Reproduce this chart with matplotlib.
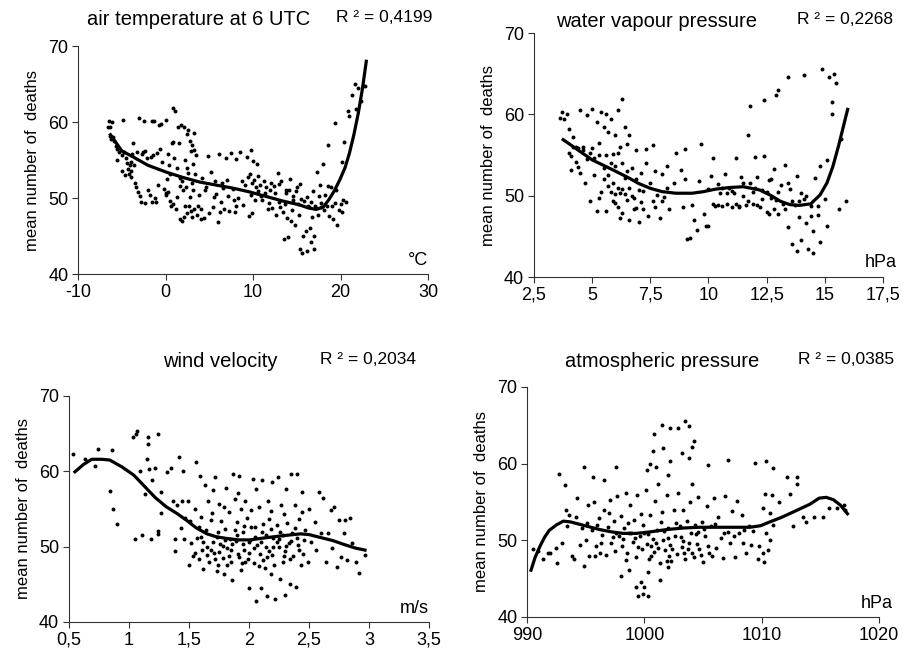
import matplotlib
matplotlib.use("Agg")
import matplotlib.pyplot as plt

plt.rcParams["font.family"] = ["Liberation Sans", "DejaVu Sans"]

# ── data ────────────────────────────────────────────────────────────

temp_pts = [
    (-6.6, 59.3), (-6.5, 60.1), (-6.4, 59.4), (-6.3, 58.1), (-6.2, 57.8), (-6.1, 60.0), (-6.0, 58.0),
    (-5.9, 57.5), (-5.7, 56.9), (-5.5, 56.4), (-5.3, 56.0), (-5.0, 55.6), (-4.9, 60.3), (-4.7, 56.0),
    (-4.5, 55.2), (-4.4, 54.6), (-4.3, 53.8), (-4.2, 53.2), (-4.1, 54.4), (-4.0, 53.5), (-3.9, 52.8),
    (-3.8, 55.8), (-3.7, 57.2), (-3.5, 52.0), (-3.4, 51.4), (-3.3, 56.1), (-3.2, 50.8), (-3.0, 60.5),
    (-2.9, 50.3), (-2.8, 49.5), (-2.7, 55.8), (-2.5, 60.1), (-2.4, 49.4), (-2.3, 56.2), (-2.1, 55.3),
    (-2.0, 51.0), (-1.8, 50.4), (-1.6, 60.1), (-1.5, 49.5), (-1.4, 55.6), (-1.3, 60.1), (-1.2, 50.0),
    (-1.0, 55.9), (-0.8, 59.6), (-0.6, 56.5), (-0.5, 59.7), (-0.4, 54.8), (-0.2, 51.2), (0.0, 60.3),
    (0.0, 50.6), (0.1, 50.4), (0.2, 52.5), (0.3, 50.8), (0.4, 54.3), (0.5, 53.2), (0.6, 49.0),
    (0.7, 57.3), (0.8, 61.9), (0.9, 49.2), (1.0, 55.3), (1.1, 61.4), (1.2, 48.5), (1.3, 53.9),
    (1.4, 59.4), (1.5, 57.3), (1.6, 47.3), (1.7, 52.6), (1.8, 59.6), (1.9, 47.0), (2.0, 51.0),
    (2.1, 59.3), (2.2, 55.0), (2.3, 51.5), (2.4, 48.0), (2.5, 58.4), (2.6, 53.3), (2.7, 49.0),
    (2.8, 57.5), (2.9, 56.2), (3.0, 47.5), (3.0, 52.0), (3.1, 54.5), (3.2, 58.5), (3.3, 48.5),
    (3.4, 53.2), (3.6, 47.8), (3.8, 50.4), (4.0, 48.5), (4.2, 52.6), (4.4, 47.4), (4.6, 51.5),
    (4.8, 55.5), (5.0, 48.0), (5.2, 53.4), (5.4, 48.8), (5.6, 52.3), (5.8, 50.5), (6.0, 46.8),
    (6.1, 55.8), (6.3, 49.5), (6.5, 52.0), (6.7, 48.6), (6.9, 55.3), (7.1, 50.3), (7.3, 48.3),
    (7.5, 55.9), (7.7, 51.2), (7.9, 48.2), (8.1, 55.1), (8.3, 50.0), (8.5, 56.1), (8.7, 52.3),
    (8.9, 49.1), (9.1, 51.7), (9.3, 55.4), (9.5, 47.7), (9.6, 53.1), (9.7, 56.3), (9.8, 50.4),
    (10.0, 54.9), (10.1, 52.4), (10.2, 49.8), (10.4, 54.5), (10.6, 50.9), (10.8, 51.7), (11.0, 49.8),
    (11.3, 50.6), (11.5, 51.5), (11.8, 49.3), (12.0, 52.0), (12.2, 48.7), (12.4, 51.6), (12.6, 47.8),
    (12.8, 53.3), (13.0, 49.5), (13.2, 52.2), (13.4, 48.2), (13.5, 44.6), (13.7, 51.0), (13.9, 47.4),
    (14.0, 44.9), (14.2, 52.5), (14.4, 48.4), (14.6, 50.3), (14.8, 46.4), (15.0, 51.4), (15.2, 47.8),
    (15.4, 43.3), (15.6, 42.8), (15.7, 45.0), (15.8, 49.6), (16.0, 45.7), (16.2, 43.0), (16.4, 48.8),
    (16.5, 46.1), (16.6, 44.2), (16.8, 50.9), (16.9, 43.3), (17.0, 45.0), (17.1, 49.0), (17.3, 53.4),
    (17.4, 47.8), (17.6, 51.7), (17.8, 48.8), (18.0, 54.5), (18.2, 50.4), (18.4, 49.0), (18.6, 57.0),
    (18.7, 47.6), (18.9, 51.5), (19.1, 47.2), (19.3, 49.3), (19.4, 59.9), (19.5, 51.0), (19.6, 46.4),
    (19.8, 48.4), (20.0, 49.2), (20.1, 54.7), (20.2, 48.1), (20.4, 57.4), (20.6, 49.5), (20.8, 61.5),
    (21.0, 60.8), (21.3, 63.6), (21.6, 65.0), (21.8, 61.7), (22.0, 64.5), (22.3, 62.8), (22.5, 64.7),
    (22.8, 64.7),
    (11.2, 52.3), (12.9, 51.9), (13.6, 49.2), (14.5, 49.8), (15.5, 49.9), (16.3, 48.9), (17.2, 48.7),
    (17.8, 49.4), (10.5, 52.9), (9.9, 52.0), (3.5, 55.6), (2.8, 50.2), (1.9, 52.2), (-5.5, 55.0),
    (-4.6, 53.0), (-4.0, 54.8), (-0.9, 51.7), (0.5, 49.6), (2.2, 48.9), (3.0, 57.0), (4.5, 51.0),
    (6.6, 51.3), (7.8, 49.8), (11.7, 48.5), (14.1, 51.1), (15.1, 49.2),
    (2.6, 59.0), (2.9, 48.3), (3.1, 51.0), (2.4, 53.9), (1.6, 51.6), (2.1, 47.5), (3.3, 56.3),
    (1.3, 50.2), (0.9, 57.4), (3.7, 49.0), (4.1, 47.2), (5.5, 50.1), (9.4, 52.8), (9.9, 48.0),
    (10.3, 51.4), (10.9, 50.3), (12.5, 50.6), (13.1, 48.8), (13.8, 50.6), (14.3, 47.0), (15.3, 51.9),
    (16.1, 50.2), (16.7, 47.5), (17.5, 50.3), (18.1, 48.4), (18.5, 51.6), (19.0, 48.9), (20.3, 49.7),
    (-3.6, 54.4), (-2.6, 56.0), (-1.7, 55.4), (-5.0, 53.6), (-1.1, 49.5), (0.3, 55.8), (6.2, 48.2),
    (7.0, 52.4), (8.0, 48.9), (11.9, 51.0), (14.9, 50.9), (16.6, 49.5),
]
temp_trend = [
    (-6.4, 58.5), (-5.0, 56.2), (-3.7, 55.4), (-2.0, 54.3), (0.1, 53.4), (2.0, 52.7), (3.9, 52.1),
    (5.8, 51.7), (7.7, 51.3), (9.6, 50.8), (11.5, 50.2), (13.4, 49.6), (15.3, 49.1), (16.3, 48.7),
    (17.2, 48.5), (18.0, 48.8), (18.6, 49.7), (19.3, 51.0), (19.9, 52.4), (20.5, 54.0), (21.0, 55.9),
    (21.5, 58.3), (22.0, 61.1), (22.5, 64.5), (22.95, 68.2),
]

vap_pts = [
    (3.6, 59.5), (3.7, 60.3), (3.8, 59.4), (3.9, 60.0), (4.0, 58.2), (4.0, 55.3), (4.1, 54.9),
    (4.1, 53.2), (4.2, 56.0), (4.2, 57.2), (4.3, 54.2), (4.4, 53.5), (4.5, 60.5), (4.5, 52.8),
    (4.6, 55.6), (4.7, 51.6), (4.8, 59.9), (4.8, 54.5), (4.9, 49.4), (5.0, 55.8), (5.0, 60.7),
    (5.1, 52.6), (5.2, 59.0), (5.2, 48.1), (5.3, 55.0), (5.3, 56.5), (5.4, 60.3), (5.4, 50.4),
    (5.5, 58.4), (5.5, 53.4), (5.6, 48.1), (5.6, 60.0), (5.7, 52.6), (5.7, 57.8), (5.8, 50.5),
    (5.8, 59.4), (5.9, 55.1), (5.9, 49.3), (6.0, 53.7), (6.0, 57.5), (6.1, 51.0), (6.1, 48.6),
    (6.1, 60.5), (6.2, 56.0), (6.2, 50.3), (6.3, 61.9), (6.3, 54.0), (6.3, 47.9), (6.4, 58.5),
    (6.4, 52.2), (6.5, 49.5), (6.5, 56.3), (6.6, 51.0), (6.6, 57.4), (6.6, 47.0), (6.7, 53.4),
    (6.8, 48.4), (6.9, 52.0), (6.9, 55.6), (7.0, 46.8), (7.0, 50.7), (7.1, 52.8), (7.2, 48.3),
    (7.3, 55.7), (7.3, 54.0), (7.4, 47.5), (7.5, 51.5), (7.6, 56.2), (7.6, 49.4), (7.7, 53.0),
    (7.8, 50.1), (7.9, 47.2), (8.0, 52.7), (8.0, 49.3), (8.2, 53.7), (8.3, 48.4), (8.5, 51.5),
    (8.6, 55.3), (8.8, 53.2), (8.9, 48.6), (9.0, 55.7), (9.0, 52.0), (9.1, 44.7), (9.2, 44.8),
    (9.3, 48.8), (9.4, 47.0), (9.5, 45.8), (9.6, 51.8), (9.7, 56.3), (9.8, 47.7), (9.9, 46.3),
    (10.0, 46.3), (10.1, 52.4), (10.2, 54.6), (10.3, 48.7), (10.4, 51.4), (10.5, 50.3), (10.6, 48.7),
    (10.7, 52.7), (10.8, 49.0), (10.9, 51.0), (11.0, 48.6), (11.1, 50.3), (11.2, 54.6), (11.3, 48.7),
    (11.4, 52.3), (11.5, 49.9), (11.6, 48.9), (11.7, 57.4), (11.8, 51.6), (11.8, 61.0), (11.9, 49.0),
    (12.0, 54.8), (12.1, 52.3), (12.2, 48.6), (12.3, 50.7), (12.4, 61.8), (12.4, 54.9), (12.5, 48.0),
    (12.6, 51.9), (12.7, 49.7), (12.8, 53.3), (12.9, 62.4), (13.0, 63.0), (13.0, 47.8), (13.1, 51.3),
    (13.2, 49.0), (13.3, 53.8), (13.4, 64.6), (13.4, 46.2), (13.5, 50.8), (13.6, 44.0), (13.7, 48.9),
    (13.8, 52.4), (13.8, 43.2), (13.9, 47.4), (14.0, 44.5), (14.1, 64.8), (14.1, 49.6), (14.2, 46.7),
    (14.3, 43.4), (14.4, 48.7), (14.5, 42.9), (14.5, 45.6), (14.6, 52.2), (14.7, 47.6), (14.8, 44.3),
    (14.8, 53.6), (14.9, 65.6), (15.0, 49.6), (15.1, 46.3), (15.1, 54.4), (15.2, 64.6), (15.3, 61.5),
    (15.3, 60.1), (15.4, 65.0), (15.5, 63.8), (15.6, 48.4), (15.7, 57.0), (15.9, 49.3),
    (11.0, 50.6), (11.5, 51.5), (12.0, 51.0), (12.3, 49.6), (12.8, 48.4), (13.0, 50.4), (13.6, 49.4),
    (10.6, 50.9), (10.2, 49.0), (8.2, 50.9), (7.2, 50.6), (6.8, 49.7), (5.9, 51.5), (6.4, 50.2),
    (5.1, 54.6), (4.6, 56.0), (4.3, 56.0), (5.6, 55.0), (6.0, 50.2), (6.2, 47.2), (14.2, 50.0),
    (14.7, 48.7), (12.6, 47.7), (11.3, 48.6),
    (5.7, 51.2), (5.8, 54.0), (6.0, 49.1), (6.1, 55.3), (6.3, 50.8), (6.5, 53.0), (6.7, 50.0),
    (5.5, 52.0), (5.3, 49.7), (4.9, 55.2), (4.4, 55.8), (6.9, 48.5), (7.1, 49.2), (7.7, 48.6),
    (8.1, 49.8), (10.4, 48.9), (10.8, 50.3), (11.2, 49.0), (11.7, 49.3), (12.1, 48.8), (12.5, 50.4),
    (12.9, 49.5), (13.3, 48.3), (13.9, 49.3), (14.4, 47.5), (10.0, 50.8), (11.9, 50.4), (12.7, 52.0),
    (13.4, 51.6), (14.0, 50.3),
]
vap_trend = [
    (3.7, 57.0), (4.4, 55.6), (5.0, 54.4), (5.8, 53.3), (6.5, 52.3), (7.0, 51.5), (7.5, 50.9),
    (8.0, 50.5), (8.6, 50.3), (9.3, 50.3), (9.8, 50.5), (10.3, 50.8), (10.9, 51.0), (11.5, 51.1),
    (12.2, 50.7), (12.7, 50.0), (13.1, 49.3), (13.5, 48.9), (13.9, 48.8), (14.4, 49.0), (14.8, 50.1),
    (15.1, 51.6), (15.35, 53.6), (15.6, 56.2), (15.8, 58.5), (16.0, 60.8),
]

wind_pts = [
    (0.53, 62.3), (0.63, 61.7), (0.72, 60.7), (0.74, 63.0), (0.84, 57.4), (0.86, 62.8), (0.87, 55.0),
    (0.90, 53.0), (1.03, 64.6), (1.05, 51.0), (1.06, 64.9), (1.07, 65.4), (1.09, 60.1), (1.11, 51.5),
    (1.13, 57.0), (1.15, 61.7), (1.16, 64.5), (1.16, 63.6), (1.17, 60.3), (1.18, 51.0), (1.19, 58.8),
    (1.22, 60.5), (1.24, 65.0), (1.24, 51.7), (1.24, 52.1), (1.27, 57.2), (1.27, 54.5), (1.32, 59.9),
    (1.35, 60.5), (1.37, 56.0), (1.38, 51.0), (1.38, 49.4), (1.40, 55.5), (1.42, 61.9), (1.43, 52.5),
    (1.44, 56.1), (1.45, 60.0), (1.46, 51.0), (1.47, 53.8), (1.49, 56.1), (1.50, 47.5), (1.51, 53.4),
    (1.52, 50.5), (1.53, 48.8), (1.55, 55.0), (1.56, 61.2), (1.57, 51.1), (1.58, 48.3), (1.59, 59.4),
    (1.60, 54.0), (1.61, 49.6), (1.62, 47.0), (1.63, 58.2), (1.64, 52.2), (1.65, 50.0), (1.66, 56.0),
    (1.67, 48.0), (1.68, 53.5), (1.70, 57.5), (1.71, 49.2), (1.72, 59.2), (1.73, 51.3), (1.74, 47.5),
    (1.75, 55.6), (1.76, 50.4), (1.77, 53.4), (1.78, 48.5), (1.79, 46.4), (1.80, 52.3), (1.81, 57.8),
    (1.82, 49.8), (1.83, 54.6), (1.84, 51.0), (1.85, 48.0), (1.86, 45.6), (1.87, 59.6), (1.88, 56.3),
    (1.89, 50.7), (1.90, 53.3), (1.91, 49.0), (1.92, 59.4), (1.93, 55.0), (1.94, 47.8), (1.95, 51.9),
    (1.96, 49.5), (1.97, 56.0), (1.98, 53.8), (1.99, 48.3), (2.00, 44.5), (2.01, 50.9), (2.02, 54.8),
    (2.03, 59.0), (2.04, 47.8), (2.05, 52.6), (2.06, 42.8), (2.07, 50.2), (2.08, 55.2), (2.09, 49.0),
    (2.10, 44.5), (2.11, 58.9), (2.12, 53.0), (2.13, 47.2), (2.14, 51.6), (2.15, 43.4), (2.16, 56.0),
    (2.17, 49.4), (2.18, 54.7), (2.19, 58.6), (2.20, 51.1), (2.21, 47.5), (2.22, 43.1), (2.23, 52.9),
    (2.24, 59.3), (2.25, 49.9), (2.26, 45.7), (2.27, 55.5), (2.28, 51.5), (2.29, 48.7), (2.30, 43.6),
    (2.31, 57.7), (2.32, 53.2), (2.33, 50.5), (2.34, 45.0), (2.35, 59.6), (2.36, 51.8), (2.37, 48.7),
    (2.38, 55.5), (2.39, 44.6), (2.40, 59.6), (2.41, 50.2), (2.42, 53.7), (2.43, 47.6), (2.44, 57.3),
    (2.45, 49.0), (2.47, 52.2), (2.49, 48.0), (2.50, 55.0), (2.52, 50.6), (2.55, 53.3), (2.56, 49.6),
    (2.58, 57.2), (2.60, 51.8), (2.62, 56.5), (2.64, 48.0), (2.66, 51.8), (2.68, 54.8), (2.69, 49.8),
    (2.71, 55.2), (2.73, 47.3), (2.75, 53.5), (2.77, 48.6), (2.79, 51.8), (2.80, 53.5), (2.82, 48.2),
    (2.84, 53.8), (2.86, 50.5), (2.89, 47.9), (2.92, 46.5), (2.97, 48.9),
    (1.70, 50.6), (1.75, 49.3), (1.80, 50.9), (1.85, 49.6), (1.90, 51.6), (1.95, 50.3), (2.00, 49.2),
    (2.05, 51.3), (2.10, 50.6), (2.15, 48.6), (2.20, 50.0), (2.25, 51.0), (2.30, 49.4), (2.35, 50.8),
    (1.65, 48.9), (1.72, 48.4), (1.83, 48.8), (1.97, 48.0), (2.12, 48.2), (2.28, 47.9), (1.60, 51.3),
    (2.40, 51.2), (1.88, 52.2), (2.02, 52.6), (2.18, 52.3),
    (1.62, 50.6), (1.68, 49.6), (1.74, 51.9), (1.78, 50.1), (1.82, 47.6), (1.86, 50.4), (1.92, 48.6),
    (1.96, 52.7), (2.00, 50.6), (2.04, 49.8), (2.08, 47.4), (2.11, 51.9), (2.14, 49.9), (2.19, 48.9),
    (2.23, 50.6), (2.26, 52.0), (2.31, 50.1), (2.34, 48.3), (2.38, 52.5), (2.42, 49.6), (2.46, 50.9),
    (1.55, 49.2), (1.58, 52.6), (1.69, 54.5), (1.79, 55.3), (1.91, 57.1), (2.06, 57.6), (2.17, 53.7),
    (2.29, 54.3), (2.44, 54.6), (1.73, 46.8), (1.93, 46.9), (2.18, 46.4),
]
wind_trend = [
    (0.54, 59.8), (0.62, 60.9), (0.69, 61.6), (0.77, 61.6), (0.84, 61.5), (0.94, 60.6), (1.04, 59.5),
    (1.13, 58.0), (1.22, 56.5), (1.31, 55.3), (1.40, 54.4), (1.48, 53.5), (1.56, 52.5), (1.65, 51.7),
    (1.73, 51.3), (1.81, 51.1), (1.91, 50.9), (2.01, 50.9), (2.10, 51.1), (2.20, 51.3), (2.31, 51.5),
    (2.43, 51.7), (2.50, 51.6), (2.60, 51.2), (2.70, 50.8), (2.79, 50.3), (2.89, 49.8), (2.98, 49.5),
]

pres_pts = [
    # high tail
    (1000.8, 63.8), (1001.5, 65.1), (1002.2, 64.6), (1002.9, 64.6), (1003.5, 65.5), (1003.8, 64.9),
    (1004.2, 63.0), (1004.1, 62.2), (1001.6, 62.0), (1003.2, 61.4), (1000.7, 61.6), (1003.8, 60.7),
    (1000.5, 60.0), (1002.2, 60.3), (1007.1, 60.5), (1009.4, 60.1), (1010.4, 60.3), (1011.0, 59.4),
    (1005.4, 59.8), (997.6, 59.6), (994.9, 59.6), (992.7, 58.7), (993.2, 57.2), (995.6, 58.3),
    (996.6, 57.8), (1013.0, 58.3), (1013.0, 57.4), (1012.2, 58.3), (1012.4, 56.1), (1002.0, 58.5),
    (1001.2, 57.4), (1004.1, 57.4), (1000.2, 59.2), (1001.0, 59.6),
    # low tail
    (999.3, 43.9), (999.5, 42.8), (999.9, 43.0), (999.7, 44.6), (1000.3, 42.8), (1000.0, 43.9),
    (998.0, 45.4), (998.7, 46.1), (1001.3, 44.8), (1000.3, 45.9), (1002.0, 46.5), (994.9, 46.7),
    (992.6, 47.1), (991.4, 47.6), (990.5, 48.9), (990.9, 48.6), (992.0, 48.4),
    # right group
    (1010.1, 48.3), (1009.7, 47.6), (1009.8, 49.2), (1010.5, 48.7), (1010.7, 50.0), (1010.4, 50.9),
    (1010.1, 54.2), (1010.3, 56.1), (1010.9, 55.9), (1011.5, 55.0), (1010.7, 53.5), (1011.0, 52.0),
    (1012.7, 51.8), (1013.5, 53.1), (1013.8, 52.4), (1014.5, 53.1), (1015.2, 53.1), (1015.7, 54.2),
    (1016.4, 54.2), (1017.0, 54.6), (1017.1, 53.9), (1010.2, 47.2),
    # body
    (991.8, 48.4), (992.5, 49.0), (993.0, 49.6), (993.4, 51.8), (993.6, 53.3), (993.8, 48.0),
    (994.0, 47.6), (994.2, 53.0), (994.3, 55.5), (994.5, 49.4), (994.7, 51.6), (995.0, 50.1),
    (995.2, 54.6), (995.3, 48.0), (995.5, 51.4), (995.7, 55.0), (995.9, 49.3), (996.1, 52.9),
    (996.2, 48.3), (996.4, 50.7), (996.6, 54.0), (996.7, 48.1), (996.9, 51.7), (997.1, 55.3),
    (997.2, 49.7), (997.4, 52.5), (997.5, 48.6), (997.7, 55.8), (997.8, 50.5), (998.0, 53.2),
    (998.1, 49.2), (998.3, 51.6), (998.4, 56.2), (998.5, 48.3), (998.7, 51.0), (998.8, 54.6),
    (999.0, 49.8), (999.1, 52.6), (999.3, 47.8), (999.4, 55.9), (999.6, 50.5), (999.7, 53.4),
    (999.8, 48.9), (1000.0, 51.0), (1000.1, 56.5), (1000.2, 49.5), (1000.4, 47.5), (1000.5, 53.3),
    (1000.7, 50.2), (1000.8, 48.5), (1000.9, 55.1), (1001.1, 51.3), (1001.2, 49.0), (1001.3, 47.0),
    (1001.5, 53.7), (1001.6, 50.0), (1001.8, 48.7), (1001.9, 55.9), (1002.0, 51.6), (1002.2, 49.4),
    (1002.3, 47.3), (1002.5, 53.9), (1002.6, 50.6), (1002.8, 48.2), (1002.9, 56.2), (1003.0, 51.8),
    (1003.2, 49.1), (1003.3, 54.0), (1003.5, 47.6), (1003.6, 52.5), (1003.8, 49.7), (1003.9, 55.0),
    (1004.1, 48.4), (1004.3, 52.0), (1004.4, 50.8), (1004.6, 55.7), (1004.7, 48.9), (1004.9, 52.4),
    (1005.0, 47.2), (1005.2, 50.6), (1005.3, 54.5), (1005.5, 48.3), (1005.7, 51.8), (1005.9, 55.5),
    (1006.1, 49.0), (1006.3, 53.0), (1006.5, 50.3), (1006.7, 47.7), (1006.9, 55.8), (1007.1, 51.1),
    (1007.3, 49.6), (1007.5, 53.8), (1007.7, 47.8), (1007.9, 55.1), (1008.1, 50.9), (1008.3, 53.3),
    (1008.5, 51.3), (1008.7, 48.4), (1008.9, 51.9), (1009.1, 49.4), (1009.3, 51.2),
    (997.6, 51.0), (998.2, 50.2), (998.9, 50.9), (999.5, 49.1), (1000.3, 50.8), (1001.0, 49.6),
    (1001.7, 51.2), (1002.4, 48.9), (1003.1, 50.4), (1003.7, 48.8), (1004.5, 49.5), (1005.1, 51.5),
    (1000.6, 48.0), (1002.1, 48.0), (1003.4, 48.3), (1004.8, 48.1), (996.0, 52.0), (997.0, 53.6),
    (995.1, 52.3), (996.3, 49.6), (997.3, 50.4), (998.6, 52.3), (999.2, 50.3), (999.9, 52.0),
    (1000.6, 49.2), (1001.4, 52.4), (1002.0, 50.3), (1002.7, 52.2), (1003.3, 49.9), (1004.0, 50.9),
    (1004.6, 51.1), (1005.4, 49.3), (1006.0, 52.1), (1006.8, 51.0), (1007.6, 50.6), (1008.4, 49.6),
    (995.8, 47.9), (998.4, 47.4), (1001.9, 47.3), (1004.2, 47.8), (1005.8, 48.0), (993.3, 54.0),
]
pres_trend = [
    (990.3, 45.9), (990.7, 47.8), (991.1, 49.2), (991.5, 50.4), (991.9, 51.3), (992.5, 52.0),
    (993.1, 52.5), (993.7, 52.4), (994.2, 52.2), (995.2, 51.8), (996.2, 51.4), (997.2, 51.1),
    (998.2, 50.9), (999.3, 50.9), (1000.5, 51.1), (1001.9, 51.4), (1003.3, 51.6), (1004.7, 51.7),
    (1006.1, 51.7), (1007.5, 51.7), (1009.0, 51.7), (1009.9, 51.9), (1010.7, 52.4), (1011.7, 53.0),
    (1012.7, 53.7), (1013.4, 54.2), (1014.1, 54.7), (1014.9, 55.5), (1015.5, 55.6), (1016.1, 55.3),
    (1016.7, 54.6), (1017.4, 53.3),
]

panels = [
    # (points, trend, xlim, xticks, xticklabels, unit, title, r2, axes rect, (title x, r2 x), text y)
    (temp_pts, temp_trend, (-10, 30), [-10, 0, 10, 20, 30], ["-10", "0", "10", "20", "30"],
     "°C", "air temperature at 6 UTC", "R ² = 0,4199",
     [0.0862, 0.5848, 0.3870, 0.3455], (0.219, 0.424), 0.970),
    (vap_pts, vap_trend, (2.5, 17.5), [2.5, 5, 7.5, 10, 12.5, 15, 17.5],
     ["2,5", "5", "7,5", "10", "12,5", "15", "17,5"],
     "hPa", "water vapour pressure", "R ² = 0,2268",
     [0.5900, 0.5803, 0.3856, 0.3697], (0.726, 0.934), 0.968),
    (wind_pts, wind_trend, (0.5, 3.5), [0.5, 1, 1.5, 2, 2.5, 3, 3.5],
     ["0,5", "1", "1,5", "2", "2,5", "3", "3,5"],
     "m/s", "wind velocity", "R ² = 0,2034",
     [0.0762, 0.0576, 0.3978, 0.3424], (0.243, 0.407), 0.452),
    (pres_pts, pres_trend, (990, 1020), [990, 1000, 1010, 1020], ["990", "1000", "1010", "1020"],
     "hPa", "atmospheric pressure", "R ² = 0,0385",
     [0.5823, 0.0652, 0.3890, 0.3485], (0.732, 0.935), 0.452),
]

fig = plt.figure(figsize=(9.05, 6.6), dpi=100)
fig.patch.set_facecolor("white")

for pts, trend, xlim, xticks, xlabels, unit, title, r2, rect, (tx, rx), ty in panels:
    ax = fig.add_axes(rect)
    px, py = zip(*pts)
    ax.scatter(px, py, s=8, color="black", linewidths=0, zorder=3)
    cx, cy = zip(*trend)
    ax.plot(cx, cy, color="black", linewidth=2.3, solid_capstyle="butt", zorder=4)

    ax.set_xlim(*xlim)
    ax.set_ylim(40, 70)
    ax.set_xticks(xticks)
    ax.set_xticklabels(xlabels)
    ax.set_yticks([40, 50, 60, 70])
    ax.tick_params(direction="out", length=4, width=0.8, colors="#333333",
                   labelcolor="black", labelsize=13, pad=3)
    for side in ("top", "right"):
        ax.spines[side].set_visible(False)
    for side in ("left", "bottom"):
        ax.spines[side].set_color("#333333")
        ax.spines[side].set_linewidth(0.8)
    ax.set_ylabel("mean number of  deaths", fontsize=12, labelpad=6)
    ax.text(1.04 if unit == "hPa" else 1.0, 0.06, unit, transform=ax.transAxes,
            ha="right", va="center", fontsize=13)
    fig.text(tx, ty, title, ha="center", va="center", fontsize=14.5)
    fig.text(rx, ty + 0.003, r2, ha="center", va="center", fontsize=12.5)

fig.savefig("out.png", dpi=100, facecolor="white")
